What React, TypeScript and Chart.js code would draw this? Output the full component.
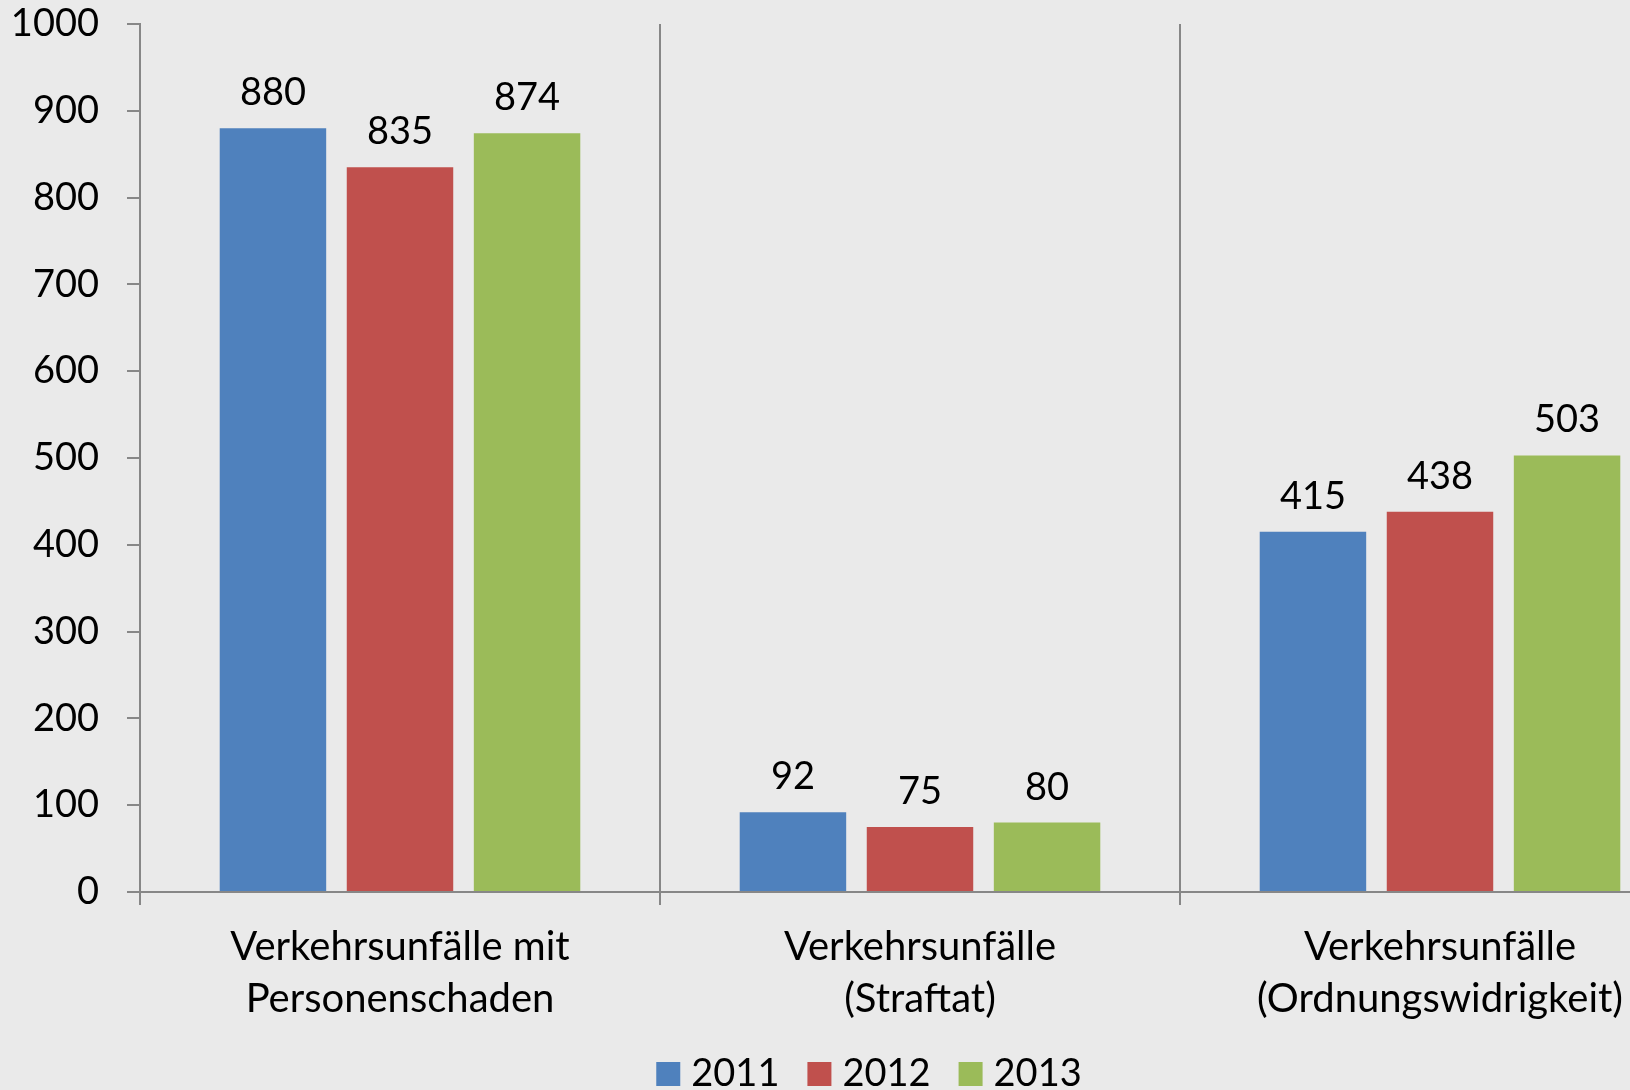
import React, { useEffect, useRef } from 'react';
import { Chart, registerables } from 'chart.js';

Chart.register(...registerables);

const categories: string[][] = [
  ['Verkehrsunfälle mit', 'Personenschaden'],
  ['Verkehrsunfälle', '(Straftat)'],
  ['Verkehrsunfälle', '(Ordnungswidrigkeit)'],
];
const seriesNames = ['2011', '2012', '2013'];
const values2011 = [880, 92, 415];
const values2012 = [835, 75, 438];
const values2013 = [874, 80, 503];
const seriesColors = ['#4F81BD', '#C0504D', '#9BBB59'];
const yMin = 0;
const yMax = 1000;
const yStep = 100;

const FONT = 'Lato, "Open Sans", sans-serif';
const AXIS = '#878787';
const BG = '#EAEAEA';

const valueLabels = {
  id: 'valueLabels',
  afterDatasetsDraw(chart: any) {
    const ctx = chart.ctx;
    ctx.save();
    ctx.font = `38px ${FONT}`;
    ctx.fillStyle = '#000';
    ctx.textAlign = 'center';
    ctx.textBaseline = 'alphabetic';
    chart.data.datasets.forEach((ds: any, i: number) => {
      const meta = chart.getDatasetMeta(i);
      meta.data.forEach((bar: any, j: number) => {
        ctx.fillText(String(ds.data[j]), bar.x, bar.y - 23);
      });
    });
    ctx.restore();
  },
};

// simple bottom legend, centred at a given x
const LEGEND_CENTER_X = 869;
const LEGEND_BASELINE = 1086;
const LEGEND_BOX = 24;
const LEGEND_TEXT_GAP = 11;
const LEGEND_ITEM_GAP = 28;

const customLegend = {
  id: 'customLegend',
  afterDraw(chart: any) {
    const ctx = chart.ctx;
    ctx.save();
    ctx.font = `38px ${FONT}`;
    ctx.textBaseline = 'alphabetic';
    ctx.textAlign = 'left';
    const items = chart.data.datasets.map((ds: any) => ({
      label: ds.label,
      color: ds.backgroundColor,
      w: ctx.measureText(ds.label).width,
    }));
    const total =
      items.reduce((s: number, it: any) => s + LEGEND_BOX + LEGEND_TEXT_GAP + it.w, 0) +
      LEGEND_ITEM_GAP * (items.length - 1);
    let x = LEGEND_CENTER_X - total / 2;
    items.forEach((it: any) => {
      ctx.fillStyle = it.color;
      ctx.fillRect(x, LEGEND_BASELINE - LEGEND_BOX, LEGEND_BOX, LEGEND_BOX);
      x += LEGEND_BOX + LEGEND_TEXT_GAP;
      ctx.fillStyle = '#000';
      ctx.fillText(it.label, x, LEGEND_BASELINE);
      x += it.w + LEGEND_ITEM_GAP;
    });
    ctx.restore();
  },
};

export default function App() {
  const ref = useRef<HTMLCanvasElement>(null);
  useEffect(() => {
    if (!ref.current) return;
    const seriesValues = [values2011, values2012, values2013];
    const chart = new Chart(ref.current, {
      type: 'bar',
      data: {
        labels: categories,
        datasets: seriesNames.map((name, i) => ({
          label: name,
          data: seriesValues[i],
          backgroundColor: seriesColors[i],
          borderWidth: 0,
          categoryPercentage: 0.733,
          barPercentage: 0.838,
        })),
      },
      options: {
        responsive: false,
        animation: false,
        devicePixelRatio: 1,
        layout: { padding: { left: 0, right: 38, top: 24, bottom: 58 } },
        plugins: {
          tooltip: { enabled: false },
          legend: { display: false },
        },
        scales: {
          x: {
            grid: {
              display: true,
              offset: true,
              color: AXIS,
              lineWidth: 2,
              drawOnChartArea: true,
              drawTicks: true,
              tickLength: 13,
            },
            border: { display: true, color: AXIS, width: 2 },
            ticks: {
              color: '#000',
              font: { family: FONT, size: 40, lineHeight: 1.3 },
              padding: 16,
              maxRotation: 0,
              autoSkip: false,
            },
            afterFit(scale: any) {
              scale.height = 140;
            },
          },
          y: {
            min: yMin,
            max: yMax,
            grid: {
              display: true,
              drawOnChartArea: false,
              drawTicks: true,
              tickLength: 13,
              color: AXIS,
              lineWidth: 2,
            },
            border: { display: true, color: AXIS, width: 2 },
            ticks: {
              stepSize: yStep,
              color: '#000',
              padding: 28,
              font: { family: FONT, size: 38 },
              callback: (v: any) => String(v),
            },
            afterFit(scale: any) {
              scale.width = 140;
              scale.paddingTop = 20;
              scale.paddingBottom = 0;
            },
          },
        },
      },
      plugins: [valueLabels, customLegend],
    } as any);
    return () => chart.destroy();
  }, []);

  return (
    <div
      style={{
        position: 'fixed',
        left: 0,
        top: 0,
        width: 1630,
        height: 1090,
        overflow: 'hidden',
        background: BG,
      }}
    >
      <canvas ref={ref} width={1738} height={1090} style={{ display: 'block', width: 1738, height: 1090 }} />
    </div>
  );
}
